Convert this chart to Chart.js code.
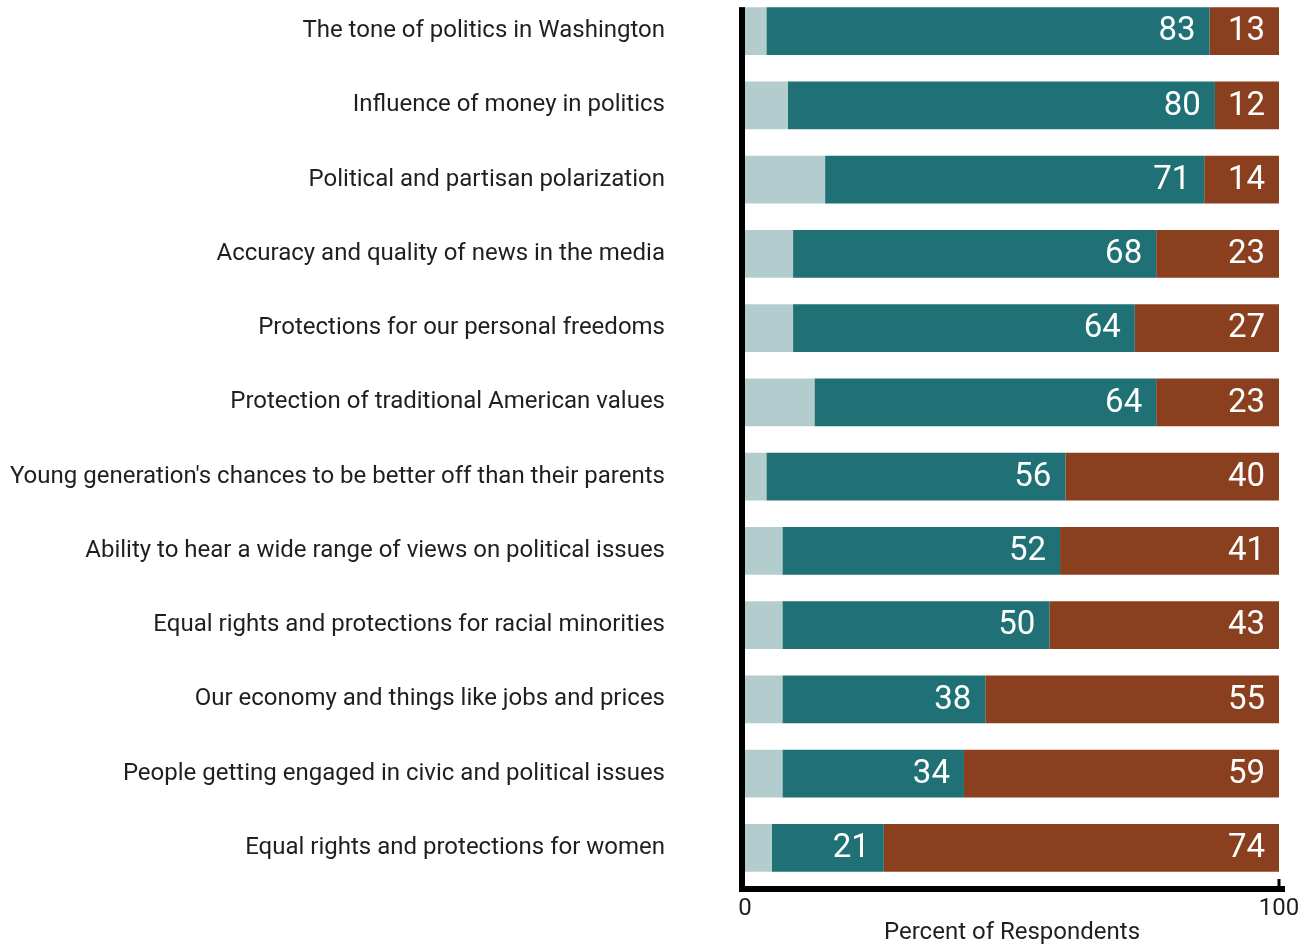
<!DOCTYPE html>
<html>
<head>
<meta charset="utf-8">
<title>Percent of Respondents</title>
<script src="https://cdn.jsdelivr.net/npm/chart.js@4.4.1/dist/chart.umd.min.js"></script>
<style>
    html, body { margin: 0; padding: 0; background: #fff; overflow: hidden; }
    #wrap { position: absolute; left: 0; top: -6px; width: 1301px; height: 951px; }
</style>
</head>
<body>
<div id="wrap"><canvas id="issuechart" width="1301" height="951"></canvas></div>
<script>
const categories = [
    'The tone of politics in Washington',
    'Influence of money in politics',
    'Political and partisan polarization',
    'Accuracy and quality of news in the media',
    'Protections for our personal freedoms',
    'Protection of traditional American values',
    "Young generation's chances to be better off than their parents",
    'Ability to hear a wide range of views on political issues',
    'Equal rights and protections for racial minorities',
    'Our economy and things like jobs and prices',
    'People getting engaged in civic and political issues',
    'Equal rights and protections for women'
];
const otherValues = [4, 8, 15, 9, 9, 13, 4, 7, 7, 7, 7, 5];
const tealValues = [83, 80, 71, 68, 64, 64, 56, 52, 50, 38, 34, 21];
const brownValues = [13, 12, 14, 23, 27, 23, 40, 41, 43, 55, 59, 74];
const xTicks = [0, 100];

const LIGHT = '#b3cdcf';
const TEAL = '#1f7175';
const BROWN = '#8a3f1e';
const INK = '#1f1f1f';

// white numbers at the right end of the teal and brown segments
const valueLabels = {
    id: 'valueLabels',
    afterDatasetsDraw(chart) {
        const ctx = chart.ctx;
        ctx.save();
        ctx.font = '33px Roboto';
        ctx.fillStyle = '#fff';
        ctx.textAlign = 'right';
        ctx.textBaseline = 'middle';
        [1, 2].forEach(di => {
            const meta = chart.getDatasetMeta(di);
            const values = chart.data.datasets[di].data;
            meta.data.forEach((bar, i) => {
                ctx.fillText(String(values[i]), bar.x - 14, bar.y + 1);
            });
        });
        ctx.restore();
    }
};

// heavy black axis lines and the tick at the right end
const axisLines = {
    id: 'axisLines',
    afterDatasetsDraw(chart) {
        const ctx = chart.ctx;
        const area = chart.chartArea;
        const first = chart.getDatasetMeta(0).data[0];
        const top = first.y - first.height / 2;
        const xScale = chart.scales.x;
        ctx.save();
        ctx.fillStyle = '#000';
        ctx.fillRect(area.left - 6, top, 6, area.bottom + 7 - top);
        ctx.fillRect(area.left - 6, area.bottom + 1, area.right - area.left + 12, 6);
        const px = xScale.getPixelForValue(xTicks[1]);
        ctx.fillRect(px - 1.5, area.bottom - 6, 3, 8);
        ctx.restore();
    }
};

Chart.defaults.font.family = 'Roboto';
Chart.defaults.color = INK;

new Chart(document.getElementById('issuechart').getContext('2d'), {
    type: 'bar',
    data: {
        labels: categories,
        datasets: [
            { label: 'Other', data: otherValues, backgroundColor: LIGHT },
            { label: 'Teal', data: tealValues, backgroundColor: TEAL },
            { label: 'Brown', data: brownValues, backgroundColor: BROWN }
        ]
    },
    options: {
        indexAxis: 'y',
        responsive: false,
        animation: false,
        datasets: {
            bar: { categoryPercentage: 1, barPercentage: 0.646, borderWidth: 0 }
        },
        layout: { padding: { top: 0, right: 22, bottom: 0, left: 0 } },
        plugins: {
            legend: { display: false },
            tooltip: { enabled: false }
        },
        scales: {
            x: {
                stacked: true,
                min: xTicks[0],
                max: xTicks[1],
                grid: { display: false, drawTicks: true, tickLength: 10 },
                border: { display: false },
                afterBuildTicks: s => { s.ticks = xTicks.map(v => ({ value: v })); },
                ticks: { padding: 0, font: { size: 24 }, color: INK, maxRotation: 0 },
                title: {
                    display: true,
                    text: 'Percent of Respondents',
                    font: { size: 24, lineHeight: 1 },
                    color: INK,
                    padding: 0
                },
                afterFit: s => {
                    s.height = 60;
                    s.paddingLeft = 0;
                    s.paddingRight = 0;
                }
            },
            y: {
                stacked: true,
                grid: { display: false, drawTicks: true, tickLength: 74 },
                border: { display: false },
                ticks: { padding: 6, font: { size: 24 }, color: INK, autoSkip: false },
                afterFit: s => {
                    s.width = 745;
                    s.paddingTop = 0;
                    s.paddingBottom = 0;
                }
            }
        }
    },
    plugins: [valueLabels, axisLines]
});
</script>
</body>
</html>
